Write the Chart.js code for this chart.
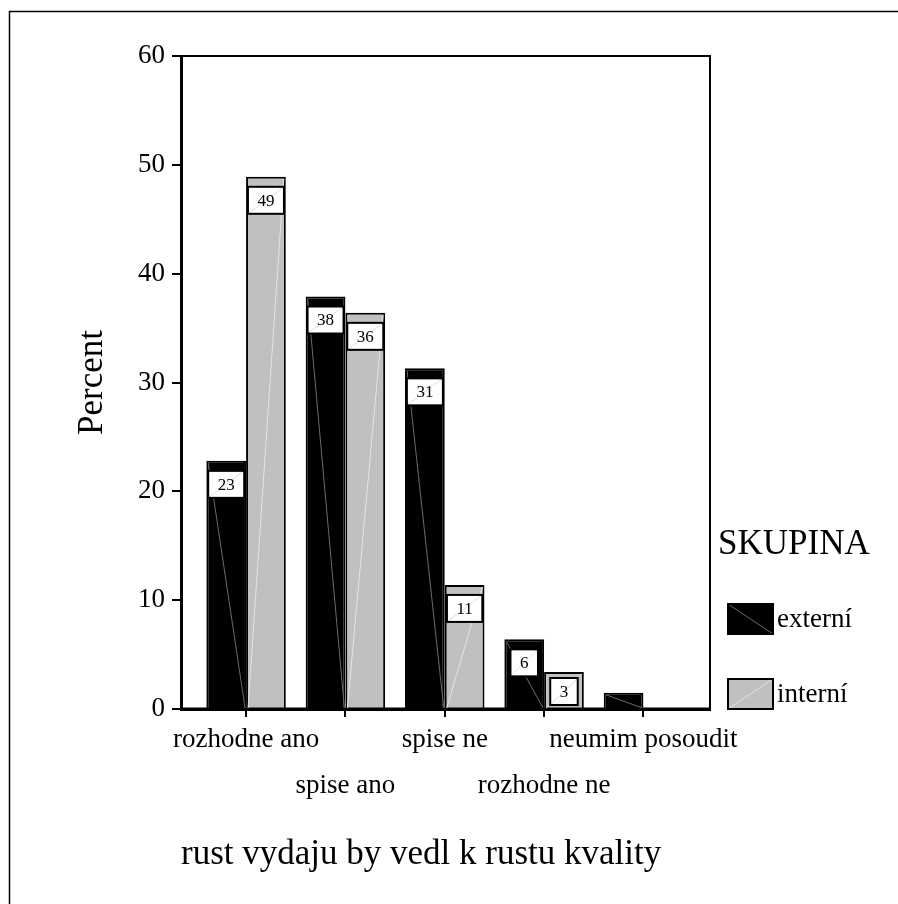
<!DOCTYPE html>
<html>
<head>
<meta charset="utf-8">
<title>rust vydaju by vedl k rustu kvality</title>
<script src="https://cdn.jsdelivr.net/npm/chart.js@4.4.1/dist/chart.umd.min.js"></script>
<style>
    html, body { margin: 0; padding: 0; background: #fff; }
    canvas { display: block; }
</style>
</head>
<body>
<canvas id="chart" width="898" height="904"></canvas>
<script>
const categories = ['rozhodne ano', 'spise ano', 'spise ne', 'rozhodne ne', 'neumim posoudit']
const externi = [22.8, 37.9, 31.3, 6.4, 1.5]
const interni = [48.9, 36.4, 11.4, 3.4, 0]
const groupLabels = ['externí', 'interní']
const groupColors = ['#000000', '#c0c0c0']
const legendTitle = 'SKUPINA'
const yTitle = 'Percent'
const xTitle = 'rust vydaju by vedl k rustu kvality'

const FONT = "'Liberation Serif', 'Times New Roman', serif"

const toPoints = arr => arr.map((v, i) => ({ x: i, y: v }))

// outer frame + plot box
const frames = {
    id: 'frames',
    beforeDraw(chart) {
        const ctx = chart.ctx
        ctx.save()
        ctx.fillStyle = '#fff'
        ctx.fillRect(0, 0, chart.width, chart.height)
        ctx.strokeStyle = '#000'
        ctx.lineWidth = 1.5
        ctx.strokeRect(9.5, 11.5, chart.width + 20, chart.height + 20)
        ctx.restore()
    },
    afterDatasetsDraw(chart) {
        const { ctx, chartArea: a } = chart
        ctx.save()
        ctx.strokeStyle = '#000'
        ctx.lineWidth = 2
        ctx.strokeRect(a.left, a.top, a.right - a.left, a.bottom - a.top)
        ctx.lineWidth = 3
        ctx.beginPath()
        ctx.moveTo(a.left, a.bottom)
        ctx.lineTo(a.right, a.bottom)
        ctx.stroke()
        ctx.restore()
    }
}

// faint diagonals and value boxes, like the old SPSS output
const barMarks = {
    id: 'barMarks',
    afterDatasetsDraw(chart) {
        const ctx = chart.ctx
        ctx.save()
        chart.data.datasets.forEach((ds, di) => {
            const meta = chart.getDatasetMeta(di)
            meta.data.forEach((bar, i) => {
                const v = ds.data[i].y
                if (!v) return
                const left = bar.x - bar.width / 2, right = bar.x + bar.width / 2
                ctx.lineWidth = 1
                ctx.beginPath()
                if (di === 0) {
                    ctx.strokeStyle = '#6a6a6a'
                    ctx.moveTo(left + 2, bar.y + 2)
                    ctx.lineTo(right - 1, bar.base)
                } else {
                    ctx.strokeStyle = '#e4e4e4'
                    ctx.moveTo(left + 2, bar.base)
                    ctx.lineTo(right - 2, bar.y + 2)
                }
                ctx.stroke()

                if (v < 3) return
                const txt = String(Math.round(v))
                ctx.font = `17px ${FONT}`
                const w = ctx.measureText(txt).width + 19
                const h = 27
                let top = bar.y + 10
                if (top + h > bar.base - 3) top = bar.base - 3 - h
                ctx.fillStyle = '#fff'
                ctx.fillRect(bar.x - w / 2, top, w, h)
                ctx.strokeStyle = '#ddd'
                ctx.beginPath()
                ctx.moveTo(bar.x - w / 2, top + h)
                ctx.lineTo(bar.x + w / 2, top)
                ctx.stroke()
                ctx.strokeStyle = '#000'
                ctx.lineWidth = 2
                ctx.strokeRect(bar.x - w / 2, top, w, h)
                ctx.fillStyle = '#000'
                ctx.textAlign = 'center'
                ctx.textBaseline = 'middle'
                ctx.fillText(txt, bar.x, top + h / 2 + 1)
            })
        })
        ctx.restore()
    }
}

const skupinaLegend = {
    id: 'skupinaLegend',
    afterDraw(chart) {
        const { ctx, chartArea: a } = chart
        const x = a.right + 18
        ctx.save()
        ctx.textBaseline = 'middle'
        ctx.textAlign = 'left'
        ctx.fillStyle = '#000'
        ctx.font = `35px ${FONT}`
        ctx.fillText(legendTitle, a.right + 8, a.bottom - 164)
        chart.data.datasets.forEach((ds, i) => {
            const top = a.bottom - 105 + i * 75
            ctx.fillStyle = ds.backgroundColor
            ctx.fillRect(x, top, 45, 30)
            ctx.lineWidth = 1
            ctx.strokeStyle = i === 0 ? '#6a6a6a' : '#e4e4e4'
            ctx.beginPath()
            if (i === 0) { ctx.moveTo(x, top); ctx.lineTo(x + 45, top + 30) }
            else { ctx.moveTo(x, top + 30); ctx.lineTo(x + 45, top) }
            ctx.stroke()
            ctx.lineWidth = 2
            ctx.strokeStyle = '#000'
            ctx.strokeRect(x, top, 45, 30)
            ctx.fillStyle = '#000'
            ctx.font = `27px ${FONT}`
            ctx.fillText(ds.label, x + 49, top + 16)
        })
        ctx.restore()
    }
}

const data = {
    datasets: [
        {
            label: groupLabels[0],
            data: toPoints(externi),
            backgroundColor: groupColors[0],
            borderColor: '#000',
            borderWidth: 2,
            borderSkipped: 'start'
        },
        {
            label: groupLabels[1],
            data: toPoints(interni),
            backgroundColor: groupColors[1],
            borderColor: '#000',
            borderWidth: 2,
            borderSkipped: 'start'
        }
    ]
}

const config = {
    type: 'bar',
    data: data,
    options: {
        responsive: false,
        animation: false,
        categoryPercentage: 0.8,
        barPercentage: 1.0,
        layout: { padding: { top: 56, right: 188, bottom: 0, left: 0 } },
        plugins: {
            legend: { display: false },
            tooltip: { enabled: false }
        },
        scales: {
            x: {
                type: 'linear',
                min: -0.655,
                max: 4.67,
                offset: false,
                afterBuildTicks: s => { s.ticks = categories.map((c, i) => ({ value: i })) },
                afterFit: s => { s.height = 195 },
                grid: { offset: false, drawOnChartArea: false, drawTicks: true, tickLength: 8, color: '#000', lineWidth: 2 },
                border: { color: '#000', width: 3 },
                ticks: {
                    autoSkip: false,
                    maxRotation: 0,
                    padding: 0,
                    color: '#000',
                    font: { family: FONT, size: 27, lineHeight: 1.7 },
                    callback: (value, index) => {
                        const label = categories[value]
                        if (label === undefined) return ''
                        return index % 2 ? ['', label] : label
                    }
                },
                title: {
                    display: true,
                    text: xTitle,
                    align: 'start',
                    color: '#000',
                    font: { family: FONT, size: 35 },
                    padding: { top: 0, bottom: 28 }
                }
            },
            y: {
                min: 0,
                max: 60,
                afterFit: s => { s.width = 181 },
                grid: { drawOnChartArea: false, drawTicks: true, tickLength: 9, color: '#000', lineWidth: 2 },
                border: { color: '#000', width: 3 },
                ticks: {
                    stepSize: 10,
                    padding: 7,
                    color: '#000',
                    font: { family: FONT, size: 27 }
                },
                title: {
                    display: true,
                    text: yTitle,
                    color: '#000',
                    font: { family: FONT, size: 35 },
                    padding: { top: 72, bottom: 0 }
                }
            }
        }
    },
    plugins: [frames, barMarks, skupinaLegend]
}

const myChart = new Chart(document.getElementById('chart'), config)
</script>
</body>
</html>
